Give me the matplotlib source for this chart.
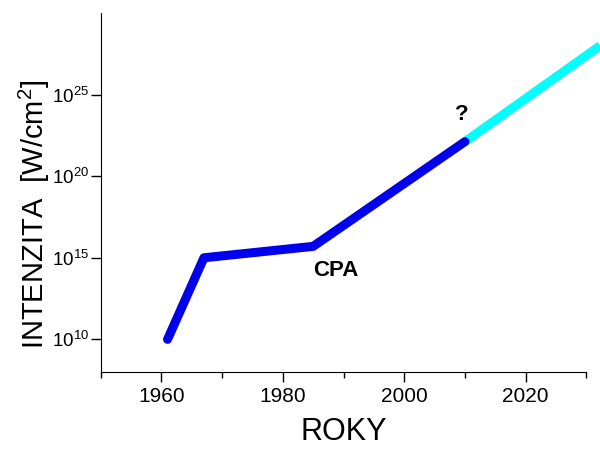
import matplotlib
matplotlib.use('Agg')
import matplotlib.pyplot as plt
from matplotlib.ticker import FixedLocator, NullLocator

plt.rcParams['font.family'] = ['Liberation Sans', 'DejaVu Sans']
plt.rcParams['mathtext.fontset'] = 'custom'
plt.rcParams['mathtext.rm'] = 'Liberation Sans'

# data
years_known = [1961, 1967, 1985, 2010]
intens_known = [1e10, 1e15, 5e15, 1.3e22]
years_future = [2010, 2032.3]
intens_future = [1.3e22, 1e28]

fig = plt.figure(figsize=(6, 4.49), dpi=100)
ax = fig.add_axes([0.168, 0.1715, 0.809, 0.7995])

ax.plot(years_known, intens_known, color='#0000ee', lw=6.5, solid_capstyle='round',
        solid_joinstyle='round', clip_on=False, zorder=3)
ax.plot(years_future, intens_future, color='#00ffff', lw=6.5, solid_capstyle='butt',
        clip_on=False, zorder=2)

ax.set_yscale('log')
ax.set_xlim(1950, 2030)
ax.set_ylim(1e8, 1e30)

ax.xaxis.set_major_locator(FixedLocator([1960, 1980, 2000, 2020]))
ax.xaxis.set_minor_locator(FixedLocator([1950, 1970, 1990, 2010, 2030]))
ax.yaxis.set_major_locator(FixedLocator([1e10, 1e15, 1e20, 1e25]))
ax.yaxis.set_minor_locator(NullLocator())

for s in ['top', 'right']:
    ax.spines[s].set_visible(False)
ax.tick_params(axis='both', which='major', direction='out', length=7, width=1, labelsize=15)
ax.tick_params(axis='y', which='major', pad=1.5, labelsize=13.5)
ax.tick_params(axis='x', which='minor', direction='out', length=4, width=1)

ax.set_xlabel('ROKY', fontsize=22, labelpad=8)
ax.set_ylabel(r'INTENZITA  [W/cm$^{2}$]', fontsize=21)
ax.yaxis.set_label_coords(-0.1, 0.44)

ax.text(1988.7, 7e14, 'CPA', fontsize=16, fontweight='bold', ha='center', va='top')
ax.text(2009.5, 1.3e23, '?', fontsize=16, fontweight='bold', ha='center', va='bottom')

fig.savefig('out.png', dpi=100)
